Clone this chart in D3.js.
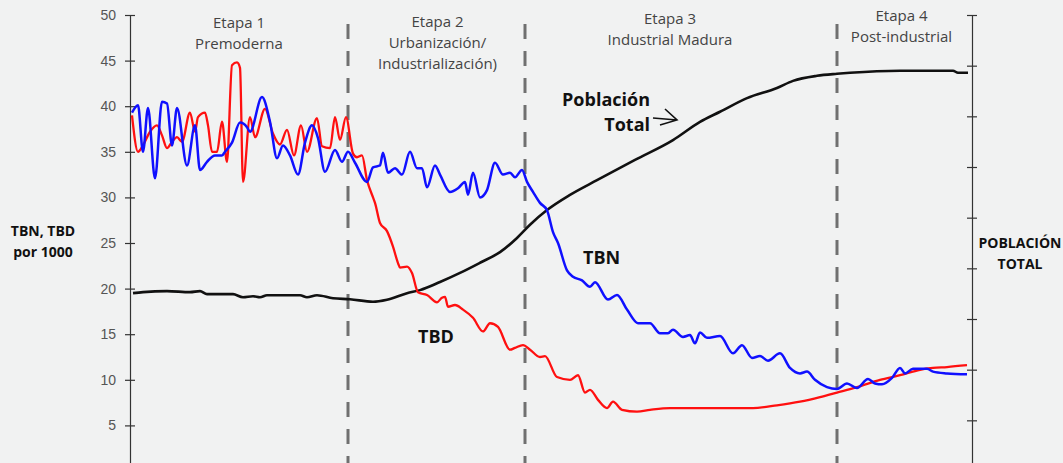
<!DOCTYPE html>
<html>
<head>
<meta charset="utf-8">
<script src="https://cdn.jsdelivr.net/npm/d3@7"></script>
<style>
	body { margin: 0; background: #f1f2f2; }
	svg { display: block; }
</style>
</head>
<body>
<svg id="chart" width="1063" height="463"></svg>
<script>
// Values (tiempo = unidad arbitraria, tasa por 1000)
const tbn = [
	[2, 39.3], [8, 40.1], [13, 35.0], [18, 39.8], [25, 32.1], [32, 40.5], [37, 40.3], [42, 35.7],
	[47, 39.8], [57, 33.5], [65, 37.9], [70, 33.0], [77, 33.9], [85, 34.6], [92, 34.6], [95, 35.0],
	[102, 36.0], [110, 38.2], [117, 37.7], [120, 37.2], [132, 41.0], [140, 38.3], [147, 34.3],
	[153, 35.7], [160, 34.6], [168, 32.5], [175, 36.0], [182, 37.9], [188, 36.5], [195, 32.8],
	[205, 35.2], [212, 33.9], [218, 35.0], [225, 33.8], [237, 31.7], [243, 33.3], [250, 33.5],
	[253, 34.9], [258, 32.7], [265, 33.2], [272, 32.5], [280, 35.0], [287, 33.2], [292, 33.2],
	[297, 31.1], [305, 33.5], [310, 32.5], [320, 30.6], [328, 31.0], [335, 31.7], [338, 30.3],
	[343, 32.7], [350, 30.0], [357, 30.8], [365, 33.8], [373, 32.5], [380, 32.7], [385, 32.2],
	[392, 33.0], [397, 31.7], [403, 30.6], [410, 29.4], [417, 28.6], [423, 26.2], [428, 25.0],
	[437, 22.0], [443, 21.3], [452, 20.9], [460, 20.2], [465, 20.7], [478, 18.8], [487, 19.3],
	[497, 17.7], [508, 16.2], [520, 16.2], [530, 15.1], [538, 15.1], [543, 15.5], [553, 14.7],
	[560, 14.9], [565, 14.0], [570, 15.2], [577, 14.6], [590, 14.8], [603, 12.9], [612, 13.8],
	[622, 12.4], [630, 12.6], [638, 12.1], [650, 12.9], [660, 11.3], [670, 10.7], [677, 10.9],
	[685, 10.0], [697, 9.2], [707, 9.0], [717, 9.6], [727, 9.1], [738, 10.1], [745, 9.6],
	[752, 9.5], [762, 10.2], [770, 11.3], [775, 10.7], [783, 11.2], [797, 11.2], [803, 10.9],
	[817, 10.7], [837, 10.6]
];
const tbd = [
	[2, 39.0], [8, 35.0], [13, 35.7], [20, 37.2], [27, 37.9], [32, 36.8], [37, 35.4], [42, 36.1],
	[47, 36.6], [52, 36.1], [60, 39.3], [65, 37.2], [68, 38.8], [75, 39.3], [78, 37.9], [82, 35.0],
	[87, 35.0], [92, 38.3], [97, 33.9], [102, 44.5], [107, 44.8], [110, 44.2], [113, 31.7],
	[120, 38.8], [125, 36.6], [135, 39.7], [143, 37.0], [150, 35.8], [157, 37.4], [164, 34.6],
	[171, 37.9], [177, 35.0], [187, 38.7], [192, 35.6], [200, 35.4], [205, 38.8], [210, 36.3],
	[216, 38.8], [223, 34.8], [227, 34.4], [232, 34.6], [237, 31.9], [243, 30.0], [245, 29.4],
	[250, 27.2], [257, 26.3], [263, 24.6], [268, 22.8], [270, 22.3], [277, 22.4], [282, 21.7],
	[288, 19.6], [297, 19.3], [307, 18.5], [312, 19.0], [315, 19.1], [318, 18.0], [325, 18.2],
	[333, 17.7], [343, 16.8], [353, 15.3], [360, 16.2], [368, 15.8], [380, 13.3], [385, 13.5],
	[393, 13.8], [400, 13.3], [410, 12.5], [415, 12.6], [427, 10.3], [440, 10.0], [448, 10.5],
	[455, 8.6], [460, 8.9], [468, 7.8], [477, 6.9], [483, 7.6], [492, 6.7], [507, 6.5], [520, 6.7],
	[540, 6.9], [570, 6.9], [623, 6.9], [647, 7.2], [670, 7.6], [690, 8.1], [707, 8.6], [727, 9.2],
	[750, 10.0], [770, 10.5], [790, 11.1], [803, 11.3], [817, 11.4], [837, 11.6]
];
// poblacion total (eje derecho, sin unidades)
const poblacion = [
	[3, 35.1], [13, 35.3], [37, 35.5], [60, 35.3], [70, 35.5], [77, 34.9], [103, 34.9], [113, 34.3],
	[123, 34.5], [130, 34.3], [137, 34.7], [170, 34.7], [177, 34.3], [187, 34.7], [203, 34.1],
	[220, 33.9], [243, 33.4], [257, 33.8], [277, 35.1], [290, 35.7], [310, 37.3], [330, 39.1],
	[350, 41.1], [370, 43.2], [387, 46.0], [400, 48.6], [417, 51.5], [440, 54.5], [467, 57.4],
	[505, 61.4], [543, 65.3], [570, 68.9], [590, 70.9], [617, 73.6], [647, 75.6], [663, 77.0],
	[687, 78.0], [707, 78.4], [720, 78.6], [770, 79.0], [823, 79.0], [828, 78.6], [838, 78.6]
];
const leftTicks = d3.range(0, 51, 5);
const rightTicks = d3.range(0, 91, 10);
const limites = [218, 395, 707];
const etapas = [
	["Etapa 1", "Premoderna"],
	["Etapa 2", "Urbanización/", "Industrialización)"],
	["Etapa 3", "Industrial Madura"],
	["Etapa 4", "Post-industrial"]
];

const width = 1063, height = 463;
const svg = d3.select("#chart");
const font = "'Open Sans', 'Liberation Sans', sans-serif";

// scales
const x = d3.scaleLinear().domain([0, 842]).range([130, 972]);
const y = d3.scaleLinear().domain([0, 50]).range([471, 15]);
const yPop = d3.scaleLinear().domain([0, 90]).range([471, 15]);

svg.append("rect").attr("width", width).attr("height", height).attr("fill", "#f1f2f2");

// stage boundaries
svg.append("g")
	.selectAll("line")
	.data(limites)
	.join("line")
	.attr("x1", (d) => x(d))
	.attr("x2", (d) => x(d))
	.attr("y1", 24)
	.attr("y2", height)
	.attr("stroke", "#707070")
	.attr("stroke-width", 3)
	.attr("stroke-dasharray", "15,12");

// axes
const axisLeft = svg.append("g")
	.attr("transform", `translate(${x(0)},0)`)
	.call(d3.axisLeft(y).tickValues(leftTicks).tickSizeInner(5).tickSizeOuter(0).tickPadding(9)
		.tickFormat((d) => (d === 0 ? "" : d)));
const axisRight = svg.append("g")
	.attr("transform", `translate(${x(842)},0)`)
	.call(d3.axisRight(yPop).tickValues(rightTicks).tickFormat("").tickSizeInner(5).tickSizeOuter(0));
[axisLeft, axisRight].forEach((g) => {
	g.select(".domain").attr("stroke", "#333").attr("stroke-width", 1.2);
	g.selectAll(".tick line").attr("stroke", "#333").attr("stroke-width", 1.2);
});
axisLeft.selectAll(".tick line").attr("x1", 5);
axisRight.selectAll(".tick line").attr("x1", -5);
axisLeft.selectAll(".tick text")
	.attr("font-family", "'Liberation Sans', Arial, sans-serif")
	.attr("font-size", 14)
	.attr("fill", "#555");

// lines
const line = (yScale) => d3.line()
	.x((d) => x(d[0]))
	.y((d) => yScale(d[1]))
	.curve(d3.curveMonotoneX);

svg.append("path").datum(poblacion)
	.attr("d", line(yPop)).attr("fill", "none")
	.attr("stroke", "#111").attr("stroke-width", 2.6);
svg.append("path").datum(tbd)
	.attr("d", line(y)).attr("fill", "none")
	.attr("stroke", "#ff1010").attr("stroke-width", 2.3);
svg.append("path").datum(tbn)
	.attr("d", line(y)).attr("fill", "none")
	.attr("stroke", "#1010ff").attr("stroke-width", 2.5);

// stage labels
const etapaTop = [28, 27, 24, 21];
const etapaShift = [0, 1, -11, -3];
const bounds = [0, ...limites, 842];
etapas.forEach((lines, i) => {
	const cx = (x(bounds[i]) + x(bounds[i + 1])) / 2 + etapaShift[i];
	svg.append("text")
		.attr("text-anchor", "middle")
		.attr("font-family", font)
		.attr("font-size", 15)
		.attr("fill", "#444")
		.selectAll("tspan")
		.data(lines)
		.join("tspan")
		.attr("x", cx)
		.attr("y", (d, j) => etapaTop[i] + j * 21)
		.text((d) => d);
});

// annotations
const bold = (txt, px, py, size, anchor) =>
	svg.append("text")
		.attr("x", px).attr("y", py)
		.attr("text-anchor", anchor || "start")
		.attr("font-family", font)
		.attr("font-weight", "bold")
		.attr("font-size", size)
		.attr("fill", "#111")
		.text(txt);

bold("Población", x(520), 106, 18, "end");
bold("Total", x(520), 131, 18, "end");
bold("TBN", x(453), 264, 18);
bold("TBD", x(288), 343, 18);
bold("TBN, TBD", 43, 236, 14, "middle");
bold("por 1000", 43, 257, 14, "middle");
bold("POBLACIÓN", 1020, 248, 14, "middle");
bold("TOTAL", 1020, 269, 14, "middle");

// arrow to population curve
const tip = [x(547), 120];
svg.append("path")
	.attr("d", `M${tip[0] - 24},${tip[1] - 2} L${tip[0]},${tip[1]} M${tip[0] - 12},${tip[1] - 11} L${tip[0]},${tip[1]} L${tip[0] - 17},${tip[1] + 5}`)
	.attr("fill", "none")
	.attr("stroke", "#111")
	.attr("stroke-width", 1.6);
</script>
</body>
</html>
